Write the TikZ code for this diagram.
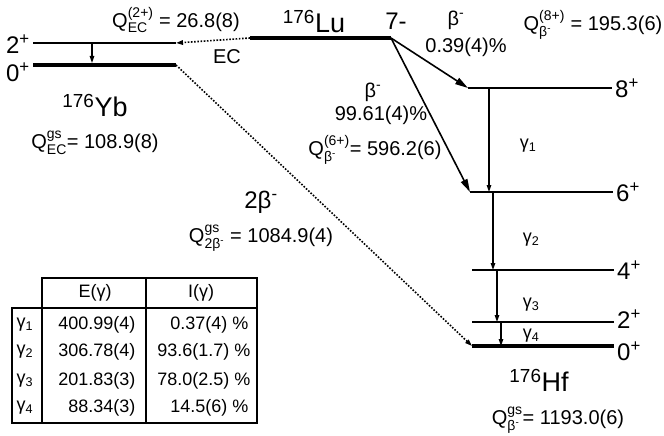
\documentclass[tikz,border=0pt]{standalone}
\usepackage{amsmath}
\usepackage{fontspec}
\setmainfont{Liberation Sans}
\usetikzlibrary{calc}
\usetikzlibrary{arrows.meta}

\newcommand{\Qlab}[2]{Q$^{\text{#1}}_{\text{#2}}$}
\newcommand{\bm}{β$^{\text{-}}$}

\begin{document}
\begin{tikzpicture}[x=1pt, y=-1pt, font=\fontsize{20}{22}\selectfont]
\useasboundingbox (0,0) rectangle (664,436);
\tikzset{lvl/.style={line width=1.6}, gs/.style={line width=4.5},
  big/.style={font=\fontsize{27}{29}\selectfont},
  spin/.style={font=\fontsize{24}{26}\selectfont, inner sep=1pt},
  tab/.style={font=\fontsize{18}{20}\selectfont},
  bdecay/.style={->, >={Triangle[length=13pt, width=7pt]}, line width=1.6},
  gtrans/.style={->, >={Triangle[length=7pt, width=4.5pt]}, line width=1.2},
  dots/.style={->, >={Triangle[length=7pt, width=4.5pt]}, line width=1.6,
    dash pattern=on 1.6pt off 1.6pt}}

% 176Yb
\coordinate (Yb2A) at (33,43); \coordinate (Yb2B) at (176,43);
\coordinate (Yb0A) at (33,65); \coordinate (Yb0B) at (176,65);
\draw[lvl] (Yb2A) -- (Yb2B); \draw[gs] (Yb0A) -- (Yb0B);
\draw[gtrans] (92,43) -- (92,63);
\node (Yb2) at (Yb2A) [left=2, yshift=-1, spin] {2$^{\text{+}}$};
\node (Yb0) at (Yb0A) [left=2, yshift=-7, spin] {0$^{\text{+}}$};
\node (Yb) at (95,106) [big] {$^{\text{176}}$Yb};
\node (QYb) at (95,143) {\Qlab{gs}{EC}= 108.9(8)};

% 176Lu
\coordinate (LuA) at (250,38); \coordinate (LuB) at (391,38);
\draw[gs] (LuA) -- (LuB);
\node (Lu) at (314,22) [big] {$^{\text{176}}$Lu};
\node (Luspin) at (396,21) [spin] {7-};

% 176Hf
\coordinate (Hf8A) at (468,88); \coordinate (Hf8B) at (612,88);
\coordinate (Hf6A) at (470,192); \coordinate (Hf6B) at (613,192);
\coordinate (Hf4A) at (472,270); \coordinate (Hf4B) at (614,270);
\coordinate (Hf2A) at (472,322); \coordinate (Hf2B) at (614,322);
\coordinate (Hf0A) at (472,346); \coordinate (Hf0B) at (614,346);
\draw[lvl] (Hf8A) -- (Hf8B); \draw[lvl] (Hf6A) -- (Hf6B);
\draw[lvl] (Hf4A) -- (Hf4B); \draw[lvl] (Hf2A) -- (Hf2B);
\draw[gs] (Hf0A) -- (Hf0B);
\node (Hf8) at (Hf8B) [right=2, spin] {8$^{\text{+}}$};
\node (Hf6) at (Hf6B) [right=2, spin] {6$^{\text{+}}$};
\node (Hf4) at (Hf4B) [right=2, spin] {4$^{\text{+}}$};
\node (Hf2) at (Hf2B) [right=2, yshift=3, spin] {2$^{\text{+}}$};
\node (Hf0) at (Hf0B) [right=2, yshift=-5, spin] {0$^{\text{+}}$};
\node (Hf) at (539,380) [big] {$^{\text{176}}$Hf};
\node (QHf) at (558,420) {\Qlab{gs}{β$^{\text{-}}$}= 1193.0(6)};

% gammas
\draw[gtrans] (489,88) -- (489,192);
\draw[gtrans] (493,192) -- (493,270);
\draw[gtrans] (497,270) -- (497,322);
\draw[gtrans] (501,322) -- (501,346);
\node (g1) at (528,146) [tab] {γ$_{\text{1}}$};
\node (g2) at (531,240) [tab] {γ$_{\text{2}}$};
\node (g3) at (531,305) [tab] {γ$_{\text{3}}$};
\node (g4) at (531,336) [tab] {γ$_{\text{4}}$};

% decays
\draw[bdecay] (LuB) -- (Hf8A);
\draw[bdecay] (LuB) -- (Hf6A);
\draw[dots] (LuA) -- (Yb2B);
\draw[dots] (Yb0B) -- (Hf0A);
\node (b1) at (456,20) {\bm};
\node (I1) at (466,47) {0.39(4)\%};
\node (Q8) at (593,25) {\Qlab{(8+)}{β$^{\text{-}}$} = 195.3(6)};
\node (b2) at (373,92) {\bm};
\node (I2) at (381,115) {99.61(4)\%};
\node (Q6) at (375,150) {\Qlab{(6+)}{β$^{\text{-}}$}= 596.2(6)};
\node (EC) at (227,57) {EC};
\node (QEC) at (176,20) {\Qlab{(2+)}{EC} = 26.8(8)};
\node (bb) at (261,202) [spin] {2\bm};
\node (Qbb) at (261,238) {\Qlab{gs}{2β$^{\text{-}}$} = 1084.9(4)};

% table
\draw[line width=1.6] (42,278) rectangle (257,308);
\draw[line width=1.6] (12,308) rectangle (257,423);
\draw[line width=1.6] (42,308) -- (42,423);
\draw[line width=1.6] (146,278) -- (146,423);
\node (hE) at (95,293) [tab] {E(γ)};
\node (hI) at (201,293) [tab] {I(γ)};
\node (t1) at (25,325) [tab] {γ$_{\text{1}}$};
\node (t2) at (25,352) [tab] {γ$_{\text{2}}$};
\node (t3) at (25,381) [tab] {γ$_{\text{3}}$};
\node (t4) at (25,408) [tab] {γ$_{\text{4}}$};
\node (e1) at (139,325) [tab, anchor=east] {400.99(4)};
\node (e2) at (139,352) [tab, anchor=east] {306.78(4)};
\node (e3) at (139,381) [tab, anchor=east] {201.83(3)};
\node (e4) at (139,408) [tab, anchor=east] {88.34(3)};
\node (i1) at (252,325) [tab, anchor=east] {0.37(4) \%};
\node (i2) at (254,352) [tab, anchor=east] {93.6(1.7) \%};
\node (i3) at (254,381) [tab, anchor=east] {78.0(2.5) \%};
\node (i4) at (252,408) [tab, anchor=east] {14.5(6) \%};

\end{tikzpicture}
\end{document}
